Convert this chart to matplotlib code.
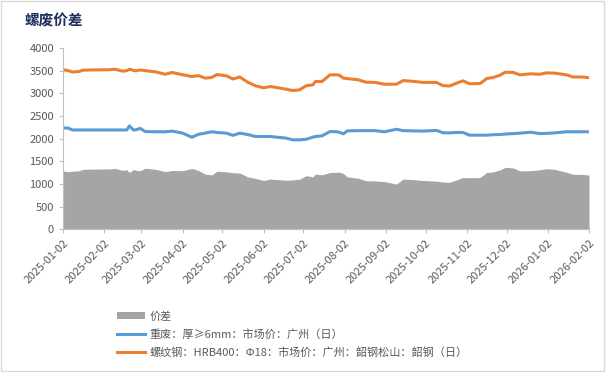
import pandas as pd
import numpy as np
import matplotlib.pyplot as plt
import matplotlib.dates as mdates

plt.rcParams['font.family'] = ['Noto Sans CJK SC', 'DejaVu Sans']

dates = ["2025-01-02", "2025-01-06", "2025-01-09", "2025-01-14", "2025-01-17", "2025-01-24",
         "2025-02-06", "2025-02-10", "2025-02-16", "2025-02-19", "2025-02-21", "2025-02-24",
         "2025-02-26", "2025-03-01", "2025-03-05", "2025-03-13", "2025-03-20", "2025-03-25",
         "2025-04-02", "2025-04-09", "2025-04-14", "2025-04-19", "2025-04-24", "2025-04-28",
         "2025-05-05", "2025-05-10", "2025-05-15", "2025-05-21", "2025-05-27", "2025-06-02",
         "2025-06-07", "2025-06-14", "2025-06-19", "2025-06-24", "2025-06-29", "2025-07-04",
         "2025-07-09", "2025-07-11", "2025-07-16", "2025-07-22", "2025-07-27", "2025-07-29",
         "2025-08-01", "2025-08-04", "2025-08-12", "2025-08-18", "2025-08-25", "2025-09-01",
         "2025-09-10", "2025-09-15", "2025-09-22", "2025-09-30", "2025-10-10", "2025-10-15",
         "2025-10-20", "2025-10-25", "2025-10-30", "2025-11-04", "2025-11-12", "2025-11-17",
         "2025-11-22", "2025-11-27", "2025-12-01", "2025-12-07", "2025-12-12", "2025-12-20",
         "2025-12-27", "2026-01-01", "2026-01-07", "2026-01-16", "2026-01-21", "2026-01-27",
         "2026-02-02"]

# 螺纹钢 HRB400 Φ18 广州
rebar = [3520, 3500, 3470, 3480, 3510, 3515,
         3520, 3532, 3488, 3500, 3532, 3505,
         3495, 3515, 3500, 3470, 3420, 3460,
         3410, 3370, 3390, 3335, 3350, 3415,
         3385, 3315, 3360, 3245, 3165, 3120,
         3150, 3115, 3090, 3060, 3075, 3165,
         3185, 3260, 3260, 3407, 3407, 3400,
         3335, 3325, 3300, 3245, 3240, 3200,
         3200, 3280, 3265, 3240, 3240, 3170,
         3160, 3220, 3275, 3210, 3215, 3325,
         3350, 3400, 3466, 3460, 3407, 3430,
         3420, 3450, 3445, 3407, 3360, 3360,
         3345]

# 重废 厚>=6mm 广州
scrap = [2237, 2230, 2190, 2190, 2190, 2190,
         2190, 2190, 2190, 2190, 2280, 2190,
         2195, 2225, 2155, 2150, 2150, 2165,
         2120, 2030, 2095, 2120, 2150, 2135,
         2120, 2070, 2120, 2090, 2045, 2045,
         2045, 2025, 2010, 1972, 1972, 1985,
         2030, 2045, 2060, 2155, 2150, 2140,
         2105, 2170, 2175, 2175, 2175, 2150,
         2205, 2175, 2170, 2165, 2180, 2130,
         2125, 2135, 2135, 2075, 2075, 2075,
         2085, 2090, 2100, 2110, 2120, 2140,
         2110, 2115, 2125, 2150, 2150, 2150,
         2150]

df = pd.DataFrame({"date": pd.to_datetime(dates), "rebar": rebar, "scrap": scrap})
df["spread"] = df["rebar"] - df["scrap"]

tick_dates = pd.to_datetime(["2025-%02d-02" % m for m in range(1, 13)] + ["2026-01-02", "2026-02-02"])

fig = plt.figure(figsize=(6.06, 3.72), dpi=100)
ax = fig.add_axes([0.104, 0.384, 0.868, 0.487])

ax.fill_between(df["date"], 0, df["spread"], color="#a5a5a5", lw=0, label="价差")
ax.plot(df["date"], df["scrap"], color="#5b9bd5", lw=2.2, label="重废：厚≥6mm：市场价：广州（日）")
ax.plot(df["date"], df["rebar"], color="#ed7d31", lw=2.2, label="螺纹钢：HRB400：Φ18：市场价：广州：韶钢松山：韶钢（日）")

ax.set_ylim(0, 4000)
ax.set_yticks(range(0, 4001, 500))
ax.set_xlim(tick_dates[0], tick_dates[-1])
ax.set_xticks(tick_dates)
ax.xaxis.set_major_formatter(mdates.DateFormatter("%Y-%m-%d"))
plt.setp(ax.get_xticklabels(), rotation=45, ha="right", rotation_mode="anchor")

for s in ["top", "right"]:
    ax.spines[s].set_visible(False)
for s in ["left", "bottom"]:
    ax.spines[s].set_color("#bfbfbf")
ax.tick_params(colors="#bfbfbf", labelcolor="#595959", labelsize=8, length=3)

fig.text(0.041, 0.944, "螺废价差", fontsize=10.5, fontweight="bold", color="#1f2f5f", va="center")

fig.legend(loc="upper left", bbox_to_anchor=(0.184, 0.178), frameon=False, fontsize=8,
           labelcolor="#595959", handlelength=2.5, handleheight=0.6, labelspacing=0.67,
           borderpad=0, handletextpad=0.45)

fig.patches.append(plt.Rectangle((0.002, 0.003), 0.995, 0.993, transform=fig.transFigure,
                                 fill=False, edgecolor="#d9d9d9", lw=1))

plt.savefig("out.png", dpi=100)
